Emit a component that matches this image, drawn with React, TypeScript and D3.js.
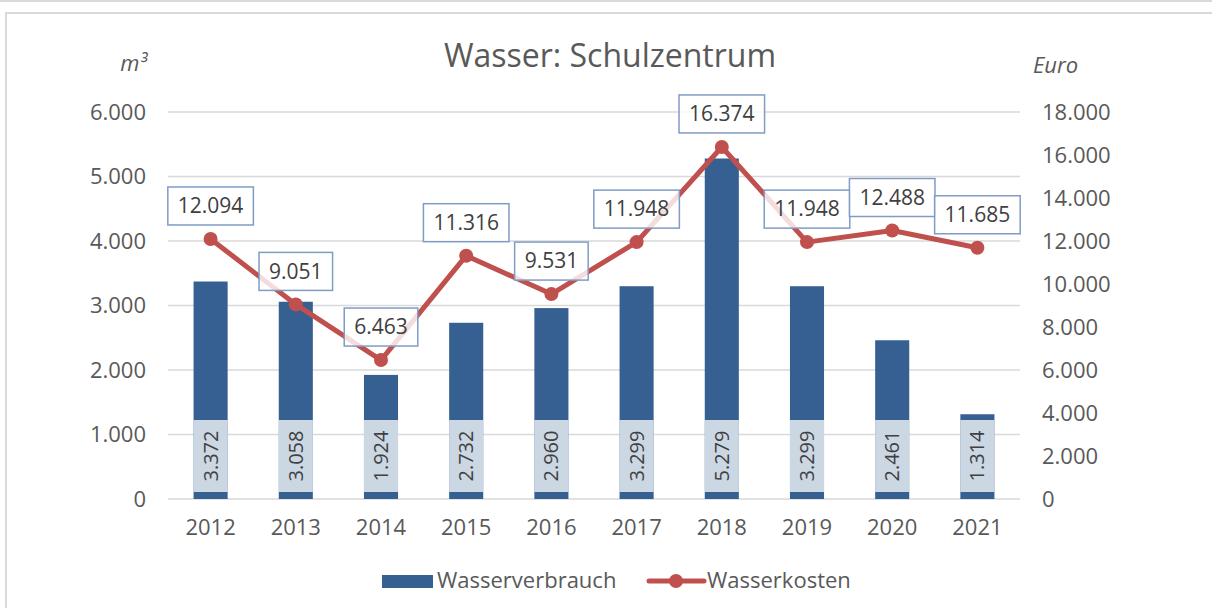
import React, { useEffect, useRef } from "react";
import * as d3 from "d3";

const years = ["2012", "2013", "2014", "2015", "2016", "2017", "2018", "2019", "2020", "2021"];
const verbrauch = [3372, 3058, 1924, 2732, 2960, 3299, 5279, 3299, 2461, 1314];
const kosten = [12094, 9051, 6463, 11316, 9531, 11948, 16374, 11948, 12488, 11685];
const leftTicks = [0, 1000, 2000, 3000, 4000, 5000, 6000];
const rightTicks = [0, 2000, 4000, 6000, 8000, 10000, 12000, 14000, 16000, 18000];

const W = 1212;
const H = 608;
const FONT = "'Open Sans', 'Noto Sans', sans-serif";
const BAR = "#376092";
const LINE = "#c0504d";
const GRID = "#d9d9d9";
const TXT = "#595959";
const LBL = "#404040";

const de = d3.formatLocale({ decimal: ",", thousands: ".", grouping: [3], currency: ["", "€"] });
const fmt = de.format(",d");

export default function App() {
  const ref = useRef<SVGSVGElement>(null);

  useEffect(() => {
    const svg = d3.select(ref.current);
    svg.selectAll("*").remove();

    const m = { left: 168, right: 1020, top: 112, bottom: 499 };
    const x = d3.scaleBand().domain(years).range([m.left, m.right]).paddingInner(0.6).paddingOuter(0.3);
    const xc = (d: string) => (x(d) as number) + x.bandwidth() / 2;
    const yL = d3.scaleLinear().domain([0, 6000]).range([m.bottom, m.top]);
    const yR = d3.scaleLinear().domain([0, 18000]).range([m.bottom, m.top]);

    // frame
    svg.append("line").attr("x1", 0).attr("x2", W).attr("y1", 1).attr("y2", 1).attr("stroke", GRID).attr("stroke-width", 2);
    svg.append("rect").attr("x", 6).attr("y", 13).attr("width", W + 20).attr("height", H + 20)
      .attr("fill", "white").attr("stroke", GRID).attr("stroke-width", 2);

    // grid
    svg.append("g").selectAll("line").data(leftTicks).join("line")
      .attr("x1", m.left).attr("x2", m.right)
      .attr("y1", (d) => yL(d)).attr("y2", (d) => yL(d))
      .attr("stroke", GRID).attr("stroke-width", 1.5);

    // left ticks
    svg.append("g").selectAll("text").data(leftTicks).join("text")
      .attr("x", m.left - 22).attr("y", (d) => yL(d)).attr("dy", "0.35em")
      .attr("text-anchor", "end").attr("font-family", FONT).attr("font-size", 22).attr("fill", TXT)
      .text((d) => fmt(d));
    // right ticks
    svg.append("g").selectAll("text").data(rightTicks).join("text")
      .attr("x", m.right + 22).attr("y", (d) => yR(d)).attr("dy", "0.35em")
      .attr("text-anchor", "start").attr("font-family", FONT).attr("font-size", 22).attr("fill", TXT)
      .text((d) => fmt(d));
    // x labels
    svg.append("g").selectAll("text").data(years).join("text")
      .attr("x", (d) => xc(d)).attr("y", 527).attr("dy", "0.35em")
      .attr("text-anchor", "middle").attr("font-family", FONT).attr("font-size", 22).attr("fill", TXT)
      .text((d) => d);

    // units
    svg.append("text").attr("x", 147).attr("y", 71).attr("text-anchor", "end")
      .attr("font-family", FONT).attr("font-size", 22).attr("font-style", "italic").attr("fill", TXT).text("m³");
    svg.append("text").attr("x", 1033).attr("y", 73).attr("text-anchor", "start")
      .attr("font-family", FONT).attr("font-size", 22).attr("font-style", "italic").attr("fill", TXT).text("Euro");

    // title
    svg.append("text").attr("x", 610).attr("y", 67).attr("text-anchor", "middle")
      .attr("font-family", FONT).attr("font-size", 32).attr("fill", TXT).text("Wasser: Schulzentrum");

    // bars
    svg.append("g").selectAll("rect").data(years).join("rect")
      .attr("x", (d) => x(d) as number).attr("width", x.bandwidth())
      .attr("y", (_, i) => yL(verbrauch[i])).attr("height", (_, i) => yL(0) - yL(verbrauch[i]))
      .attr("fill", BAR);

    // bar labels (inside base)
    const bl = svg.append("g");
    years.forEach((d, i) => {
      bl.append("rect").attr("x", x(d) as number).attr("width", x.bandwidth())
        .attr("y", yL(0) - 79).attr("height", 72)
        .attr("fill", "white").attr("fill-opacity", 0.75);
      bl.append("text")
        .attr("transform", `translate(${xc(d)},${yL(0) - 43}) rotate(-90)`)
        .attr("text-anchor", "middle").attr("dy", "0.35em")
        .attr("font-family", FONT).attr("font-size", 20).attr("fill", LBL)
        .text(fmt(verbrauch[i]));
    });

    // line
    const line = d3.line<number>().x((_, i) => xc(years[i])).y((v) => yR(v));
    svg.append("path").datum(kosten).attr("d", line).attr("fill", "none")
      .attr("stroke", LINE).attr("stroke-width", 5).attr("stroke-linejoin", "round");
    svg.append("g").selectAll("circle").data(kosten).join("circle")
      .attr("cx", (_, i) => xc(years[i])).attr("cy", (v) => yR(v)).attr("r", 7).attr("fill", LINE);

    // line labels
    const ll = svg.append("g");
    kosten.forEach((v, i) => {
      const cx = xc(years[i]);
      const cy = yR(v) - 33;
      const g = ll.append("g");
      const r = g.append("rect");
      const t = g.append("text").attr("x", cx).attr("y", cy).attr("dy", "0.35em")
        .attr("text-anchor", "middle").attr("font-family", FONT).attr("font-size", 21).attr("fill", LBL)
        .text(fmt(v));
      const w = (t.node() as SVGTextElement).getComputedTextLength() + 20;
      r.attr("x", cx - w / 2).attr("y", cy - 19).attr("width", w).attr("height", 38)
        .attr("fill", "white").attr("fill-opacity", 0.8)
        .attr("stroke", "#7f9cc5").attr("stroke-width", 1.5);
    });

    // legend
    const lg = svg.append("g");
    lg.append("rect").attr("x", 382).attr("y", 575).attr("width", 51).attr("height", 13).attr("fill", BAR);
    lg.append("text").attr("x", 437).attr("y", 588).attr("font-family", FONT).attr("font-size", 22).attr("fill", TXT).text("Wasserverbrauch");
    lg.append("line").attr("x1", 649).attr("x2", 704).attr("y1", 581).attr("y2", 581)
      .attr("stroke", LINE).attr("stroke-width", 5).attr("stroke-linecap", "round");
    lg.append("circle").attr("cx", 676).attr("cy", 581).attr("r", 7).attr("fill", LINE);
    lg.append("text").attr("x", 707).attr("y", 588).attr("font-family", FONT).attr("font-size", 22).attr("fill", TXT).text("Wasserkosten");
  }, []);

  return (
    <svg ref={ref} width={W} height={H} style={{ position: "absolute", left: 0, top: 0, display: "block" }} />
  );
}
